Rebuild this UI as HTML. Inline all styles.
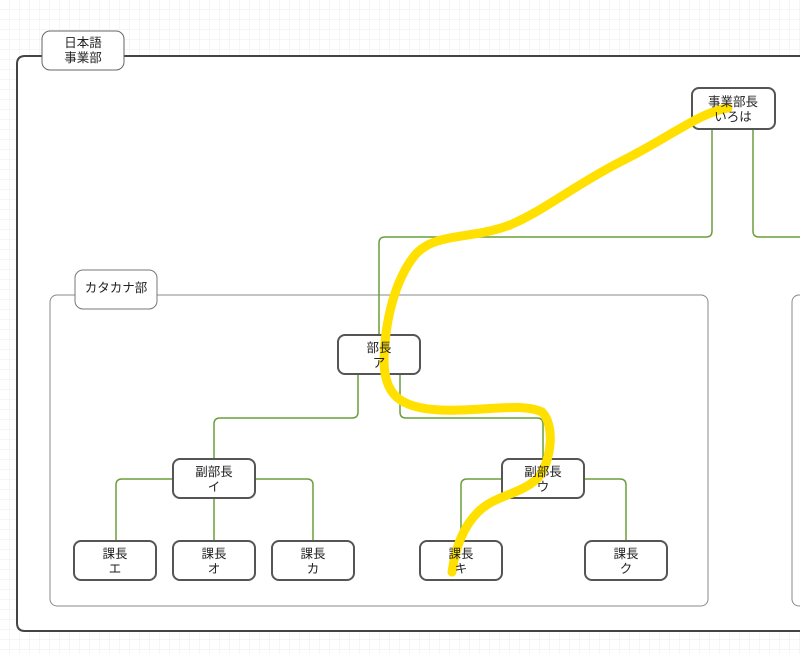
<!DOCTYPE html>
<html><head><meta charset="utf-8"><style>
html,body{margin:0;padding:0;width:800px;height:654px;overflow:hidden;background:#fff}
svg text{font-family:"Liberation Sans","Noto Sans CJK JP",sans-serif;font-size:12.5px;fill:#222;text-anchor:middle}
</style></head><body>
<svg width="800" height="654" xmlns="http://www.w3.org/2000/svg">
<defs>
<pattern id="g" width="10" height="10" patternUnits="userSpaceOnUse">
<path d="M10 0V10M0 10H10" fill="none" stroke="#ececec" stroke-width="1"/>
</pattern>
</defs>
<rect width="800" height="654" fill="url(#g)"/>
<path d="M810 56H25Q17 56 17 64V623Q17 631 25 631H810" fill="#fff" stroke="#444" stroke-width="2"/>
<rect x="42" y="31" width="82" height="39" rx="8" fill="#fff" stroke="#666"/>
<text x="83" y="47">日本語</text><text x="83" y="62">事業部</text>
<rect x="50" y="295" width="658" height="311" rx="7" fill="#fff" stroke="#888"/>
<rect x="792" y="295" width="40" height="311" rx="7" fill="#fff" stroke="#888"/>
<rect x="75" y="270" width="82" height="39" rx="8" fill="#fff" stroke="#777"/>
<text x="116" y="292">カタカナ部</text>
<g fill="none" stroke="#6a9e3a" stroke-width="1.5">
<path d="M712 129V231Q712 237 706 237H385Q379 237 379 243V336"/>
<path d="M753 129V231Q753 237 759 237H800"/>
<path d="M358 374V412Q358 418 352 418H220Q214 418 214 424V459"/>
<path d="M400 374V412Q400 418 406 418H537Q543 418 543 424V459"/>
<path d="M173 479H122Q116 479 116 485V541"/>
<path d="M214 498V541"/>
<path d="M255 479H307Q313 479 313 485V541"/>
<path d="M502 479H467Q461 479 461 485V541"/>
<path d="M584 479H620Q626 479 626 485V541"/>
</g>
<g fill="#fff" stroke="#555" stroke-width="2">
<rect x="692" y="88" width="83" height="41" rx="7"/>
<rect x="338" y="335" width="82" height="39" rx="7"/>
<rect x="173" y="459" width="82" height="39" rx="7"/>
<rect x="502" y="459" width="82" height="39" rx="7"/>
<rect x="74" y="541" width="82" height="39" rx="7"/>
<rect x="173" y="541" width="82" height="39" rx="7"/>
<rect x="272" y="541" width="82" height="39" rx="7"/>
<rect x="420" y="541" width="82" height="39" rx="7"/>
<rect x="585" y="541" width="82" height="39" rx="7"/>
</g>
<path d="M728 108C700 112 665 140 620 162C575 185 545 210 510 225C470 240 435 232 415 255C395 280 385 320 384 360C384 395 400 408 440 410C480 412 520 402 542 412C555 425 552 460 538 478C520 495 495 495 478 512C462 528 455 550 452 572" fill="none" stroke="#ffe000" stroke-width="9" stroke-linecap="round"/>
<text x="733" y="106">事業部長</text><text x="733" y="121">いろは</text>
<text x="379" y="352">部長</text><text x="379" y="367">ア</text>
<text x="214" y="476">副部長</text><text x="214" y="491">イ</text>
<text x="543" y="476">副部長</text><text x="543" y="491">ウ</text>
<text x="115" y="558">課長</text><text x="115" y="573">エ</text>
<text x="214" y="558">課長</text><text x="214" y="573">オ</text>
<text x="313" y="558">課長</text><text x="313" y="573">カ</text>
<text x="461" y="558">課長</text><text x="461" y="573">キ</text>
<text x="626" y="558">課長</text><text x="626" y="573">ク</text>
</svg>
</body></html>
